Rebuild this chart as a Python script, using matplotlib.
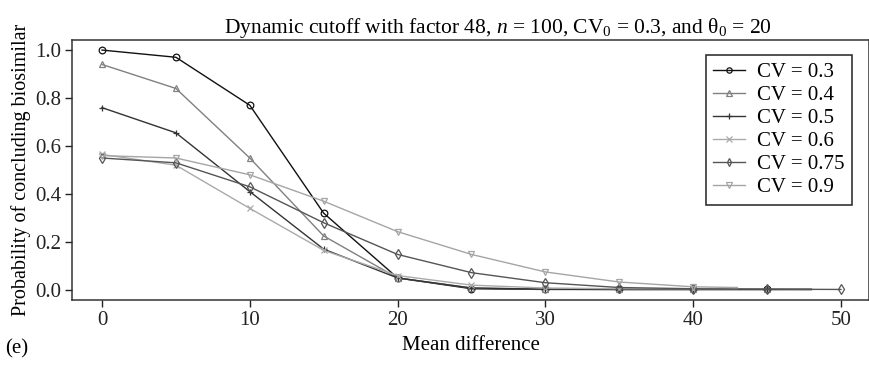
import matplotlib
matplotlib.use("Agg")
import matplotlib.pyplot as plt

plt.rcParams['font.family'] = ['Liberation Serif', 'DejaVu Serif']
plt.rcParams['mathtext.fontset'] = 'custom'
plt.rcParams['mathtext.rm'] = 'Liberation Serif'
plt.rcParams['mathtext.it'] = 'Liberation Serif:italic'

# Mean difference values for each curve (last point of some lines carries no marker)
x_03 = [0, 5, 10, 15, 20, 25, 30, 35, 40, 45, 48]
x_04 = [0, 5, 10, 15, 20, 25, 30, 35, 40, 45, 48]
x_05 = [0, 5, 10, 15, 20, 25, 30, 35, 40, 45, 48]
x_06 = [0, 5, 10, 15, 20, 25, 30, 35, 40, 43]
x_075 = [0, 5, 10, 15, 20, 25, 30, 35, 40, 45, 50]
x_09 = [0, 5, 10, 15, 20, 25, 30, 35, 40, 43]

p_03 = [1.0, 0.97, 0.77, 0.32, 0.05, 0.005, 0.002, 0.002, 0.002, 0.002, 0.002]
p_04 = [0.94, 0.84, 0.55, 0.225, 0.05, 0.008, 0.003, 0.002, 0.002, 0.002, 0.002]
p_05 = [0.76, 0.655, 0.41, 0.17, 0.05, 0.008, 0.003, 0.002, 0.002, 0.002, 0.002]
p_06 = [0.565, 0.52, 0.34, 0.165, 0.06, 0.02, 0.008, 0.005, 0.005, 0.005]
p_075 = [0.55, 0.53, 0.43, 0.28, 0.148, 0.072, 0.03, 0.01, 0.005, 0.003, 0.002]
p_09 = [0.56, 0.55, 0.48, 0.37, 0.243, 0.148, 0.075, 0.033, 0.013, 0.01]

labels = ['CV = 0.3', 'CV = 0.4', 'CV = 0.5', 'CV = 0.6', 'CV = 0.75', 'CV = 0.9']

series = [
    (x_03, p_03, 'o', '#111111', 10),
    (x_04, p_04, '^', '#808080', 10),
    (x_05, p_05, '+', '#333333', 10),
    (x_06, p_06, 'x', '#aaaaaa', 9),
    (x_075, p_075, 'd', '#555555', 11),
    (x_09, p_09, 'v', '#a5a5a5', 9),
]

FS = 15

fig = plt.figure(figsize=(8.7, 3.69), dpi=100)
ax = fig.add_axes([72 / 870, 1 - 300 / 369, (869 - 72) / 870, 260 / 369])

for (x, p, m, c, nmark), lab in zip(series, labels):
    ax.plot(x, p, color=c, lw=1.0, marker=m, markersize=4.8,
            markerfacecolor='none', markeredgecolor=c, markeredgewidth=0.9,
            markevery=list(range(nmark)), label=lab)

ax.set_xlim(-2.03, 51.9)
ax.set_ylim(-0.042, 1.042)
ax.set_xticks([0, 10, 20, 30, 40, 50])
ax.set_yticks([0.0, 0.2, 0.4, 0.6, 0.8, 1.0])
ax.set_yticklabels(['0.0', '0.2', '0.4', '0.6', '0.8', '1.0'])
ax.tick_params(direction='out', length=5, width=1, labelsize=FS, colors='#222222', pad=3)
for s in ax.spines.values():
    s.set_color('#333333')
    s.set_linewidth(1.1)

ax.set_ylabel('Probability of concluding biosimilar', fontsize=FS - 0.5, labelpad=3)
ax.set_xlabel('Mean difference', fontsize=FS, labelpad=4)
ax.set_title(r'Dynamic cutoff with factor 48, $\it{n}$ = 100, CV$_0$ = 0.3, and θ$_0$ = 20',
             fontsize=15.5, pad=5, x=0.535)
fig.text(5 / 870, 1 - 353 / 369, '(e)', fontsize=FS)

leg = ax.legend(loc='upper right', bbox_to_anchor=(852 / 870, 1 - 55 / 369),
                bbox_transform=fig.transFigure, fontsize=FS, fancybox=False,
                framealpha=1, edgecolor='#222222', handlelength=1.5,
                handletextpad=0.6, labelspacing=0.17, borderpad=0.35,
                borderaxespad=0, markerscale=0.8)
leg.get_frame().set_linewidth(1.1)

fig.savefig('out.png', dpi=100)
